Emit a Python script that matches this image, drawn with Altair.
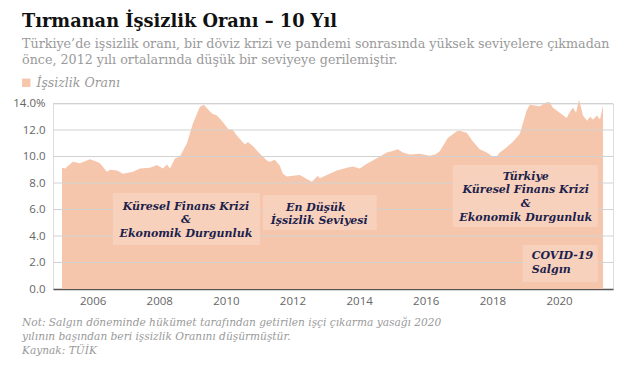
import altair as alt
import pandas as pd

# ---- data (decimal year, unemployment rate %) ----
years = [2005.08, 2005.17, 2005.41, 2005.62, 2005.92, 2006.13, 2006.22, 2006.43, 2006.52, 2006.73,
         2006.91, 2007.21, 2007.42, 2007.72, 2007.93, 2008.11, 2008.23, 2008.32, 2008.47, 2008.62,
         2008.83, 2009.01, 2009.22, 2009.34, 2009.52, 2009.61, 2009.73, 2009.91, 2010.06, 2010.21,
         2010.36, 2010.57, 2010.66, 2010.81, 2011.02, 2011.23, 2011.32, 2011.47, 2011.62, 2011.71,
         2011.83, 2012.01, 2012.22, 2012.43, 2012.58, 2012.76, 2012.82, 2013.03, 2013.33, 2013.63,
         2013.81, 2014.02, 2014.23, 2014.41, 2014.62, 2014.83, 2014.98, 2015.16, 2015.31, 2015.52,
         2015.82, 2016.12, 2016.28, 2016.42, 2016.66, 2016.93, 2017.02, 2017.23, 2017.41, 2017.62,
         2017.83, 2018.01, 2018.13, 2018.22, 2018.43, 2018.61, 2018.82, 2019.03, 2019.12, 2019.42,
         2019.63, 2019.72, 2019.81, 2020.02, 2020.23, 2020.33, 2020.42, 2020.51, 2020.60, 2020.72,
         2020.84, 2020.93, 2021.02, 2021.14, 2021.23, 2021.32]
rates = [9.15, 9.1, 9.6, 9.5, 9.8, 9.6, 9.5, 8.85, 9.0, 8.95,
         8.7, 8.85, 9.1, 9.15, 9.35, 9.1, 9.4, 9.1, 9.85, 10.0,
         11.0, 12.5, 13.75, 13.9, 13.4, 13.2, 13.1, 12.6, 12.1, 12.0,
         11.5, 10.9, 11.1, 10.8, 10.2, 9.7, 9.6, 9.75, 9.3, 8.7,
         8.5, 8.55, 8.6, 8.3, 8.1, 8.55, 8.35, 8.6, 8.95, 9.15,
         9.25, 9.1, 9.45, 9.7, 10.0, 10.3, 10.4, 10.55, 10.3, 10.15,
         10.2, 10.05, 10.15, 10.4, 11.4, 11.9, 11.95, 11.8, 11.15, 10.55,
         10.3, 10.0, 10.0, 10.3, 10.7, 11.1, 11.7, 13.5, 13.9, 13.8,
         14.1, 14.1, 13.7, 13.3, 12.9, 13.4, 13.7, 13.3, 14.3, 13.1,
         12.7, 13.0, 12.8, 13.1, 12.8, 13.85]

tick_years = [2006, 2008, 2010, 2012, 2014, 2016, 2018, 2020]
grid_values = [2, 4, 6, 8, 10, 12, 14]
y_ticks = [0, 2, 4, 6, 8, 10, 12, 14]

series_name = "İşsizlik Oranı"

# annotation boxes (x from, x to in years; y from, y to in %)
box_x = [2006.61, 2011.11, 2016.81, 2018.91]
box_x2 = [2011.02, 2014.53, 2021.16, 2021.16]
box_y = [7.25, 7.09, 9.36, 3.32]
box_y2 = [3.32, 4.45, 4.68, 0.53]

label_text = ["Küresel Finans Krizi", "&", "Ekonomik Durgunluk",
              "En Düşük", "İşsizlik Seviyesi",
              "Türkiye", "Küresel Finans Krizi", "&", "Ekonomik Durgunluk"]
label_x = [2008.8, 2008.8, 2008.8, 2012.7, 2012.8, 2019.0, 2019.0, 2019.0, 2019.0]
label_y = [6.21, 5.21, 4.15, 6.11, 5.13, 8.45, 7.47, 6.42, 5.36]

covid_text = ["COVID-19", "Salgın"]
covid_x = [2019.18, 2019.18]
covid_y = [2.49, 1.43]

X_MIN, X_MAX = 2004.81, 2021.62

df = pd.DataFrame({"year": years, "rate": rates, "series": series_name})
grid_df = pd.DataFrame({"v": grid_values, "x0": X_MIN, "x1": X_MAX})
box_df = pd.DataFrame({"x": box_x, "x2": box_x2, "y": box_y, "y2": box_y2})
lab_df = pd.DataFrame({"t": label_text, "x": label_x, "y": label_y})
cov_df = pd.DataFrame({"t": covid_text, "x": covid_x, "y": covid_y})

FILL = "#F6C6AC"
NAVY = "#1c1f4c"
SERIF = "DejaVu Serif"

xscale = alt.Scale(domain=[X_MIN, X_MAX], nice=False, zero=False)
yscale = alt.Scale(domain=[0, 14], nice=False)

label_expr = "datum.value == 14 ? '14.0%' : format(datum.value, '.1f')"

XAXIS = alt.Axis(values=tick_years, format="d", title=None, grid=False,
                 ticks=False, domain=True, domainColor="#555555", domainWidth=1.5,
                 labelColor="#666666", labelFont="Open Sans", labelFontSize=11.5,
                 labelPadding=6, labelOverlap=False)
YAXIS = alt.Axis(values=y_ticks, labelExpr=label_expr, title=None, grid=False,
                 ticks=False, domain=False, labelColor="#666666",
                 labelFont="Open Sans", labelFontSize=11.5, labelPadding=8,
                 labelOverlap=False)

area = alt.Chart(df).mark_area(color=FILL, opacity=1).encode(
    x=alt.X("year:Q", scale=xscale, axis=XAXIS),
    y=alt.Y("rate:Q", scale=yscale, axis=YAXIS),
    color=alt.Color("series:N", scale=alt.Scale(range=[FILL]),
                    legend=alt.Legend(orient="none", legendX=-33, legendY=-27, title=None,
                                      symbolType="square", symbolSize=70,
                                      symbolStrokeWidth=0, labelFont=SERIF,
                                      labelFontStyle="italic", labelColor="#999999",
                                      labelFontSize=12.5)),
)

grid = alt.Chart(grid_df).mark_rule(color="#d2d2d2", strokeWidth=1).encode(
    y=alt.Y("v:Q", scale=yscale, axis=YAXIS),
    x=alt.X("x0:Q", scale=xscale, axis=XAXIS), x2="x1:Q",
)

boxes = alt.Chart(box_df).mark_rect(color="#F8D2BE", opacity=0.9).encode(
    x=alt.X("x:Q", scale=xscale, axis=XAXIS), x2="x2:Q",
    y=alt.Y("y:Q", scale=yscale, axis=YAXIS), y2="y2:Q",
)

labels = alt.Chart(lab_df).mark_text(font=SERIF, fontWeight="bold", fontStyle="italic",
                                     fontSize=11, color=NAVY, align="center",
                                     baseline="middle").encode(
    x=alt.X("x:Q", scale=xscale, axis=XAXIS), y=alt.Y("y:Q", scale=yscale, axis=YAXIS),
    text="t:N")

covid = alt.Chart(cov_df).mark_text(font=SERIF, fontWeight="bold", fontStyle="italic",
                                    fontSize=11, color=NAVY, align="left",
                                    baseline="middle").encode(
    x=alt.X("x:Q", scale=xscale, axis=XAXIS), y=alt.Y("y:Q", scale=yscale, axis=YAXIS),
    text="t:N")

# titles and notes (positioned in pixels relative to plot area)
def txt(s, x, y, size, color, weight="normal", style="normal", font=SERIF):
    return alt.Chart(pd.DataFrame({"t": [s]})).mark_text(
        font=font, fontSize=size, color=color, fontWeight=weight, fontStyle=style,
        align="left", baseline="alphabetic").encode(
        x=alt.value(x), y=alt.value(y), text="t:N")

title = txt("Tırmanan İşsizlik Oranı – 10 Yıl", -31, -77, 17.8, "#111111", weight="bold")
sub1 = txt("Türkiye’de işsizlik oranı, bir döviz krizi ve pandemi sonrasında yüksek seviyelere çıkmadan",
           -31, -56, 12.7, "#9a9a9a")
sub2 = txt("önce, 2012 yılı ortalarında düşük bir seviyeye gerilemiştir.", -31, -40, 12.7, "#9a9a9a")
note1 = txt("Not: Salgın döneminde hükümet tarafından getirilen işçi çıkarma yasağı 2020",
            -31, 222, 10.6, "#9a9a9a", style="italic")
note2 = txt("yılının başından beri işsizlik Oranını düşürmüştür.", -31, 236, 10.6, "#9a9a9a", style="italic")
note3 = txt("Kaynak: TÜİK", -31, 250, 10.6, "#9a9a9a", style="italic")

chart = alt.layer(area, grid, boxes, labels, covid, title, sub1, sub2, note1, note2, note3).properties(
    width=560, height=185.5,
    autosize=alt.AutoSizeParams(type="none"),
    padding={"left": 45, "top": 95.5, "right": 19, "bottom": 81},
).configure_view(stroke=None).configure(background="white")

chart.save("out.html", embed_options={"renderer": "svg", "actions": False})
